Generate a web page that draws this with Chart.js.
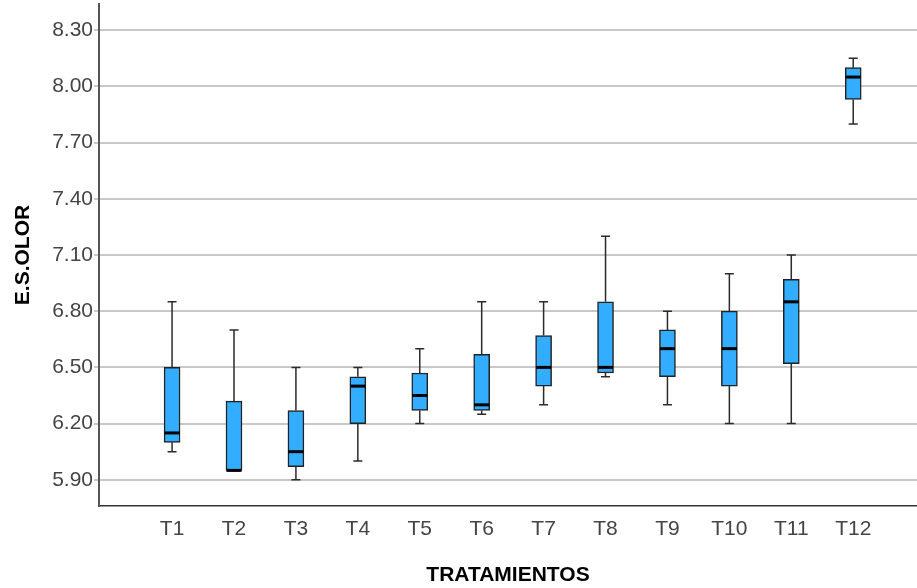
<!DOCTYPE html>
<html>
<head>
<meta charset="utf-8">
<script src="https://cdn.jsdelivr.net/npm/chart.js@4"></script>
<style>
  html, body { margin: 0; padding: 0; background: #ffffff; }
  #wrap { width: 917px; height: 588px; }
</style>
</head>
<body>
<div id="wrap"><canvas id="c" width="917" height="588"></canvas></div>
<script>
// ---- data ----
const categories = ['T1','T2','T3','T4','T5','T6','T7','T8','T9','T10','T11','T12'];
const minVals    = [6.05, 5.95, 5.90, 6.00, 6.20, 6.25, 6.30, 6.45, 6.30, 6.20, 6.20, 7.80];
const q1Vals     = [6.10, 5.95, 5.97, 6.20, 6.27, 6.27, 6.40, 6.47, 6.45, 6.40, 6.52, 7.93];
const medianVals = [6.15, 5.95, 6.05, 6.40, 6.35, 6.30, 6.50, 6.50, 6.60, 6.60, 6.85, 8.05];
const q3Vals     = [6.50, 6.32, 6.27, 6.45, 6.47, 6.57, 6.67, 6.85, 6.70, 6.80, 6.97, 8.10];
const maxVals    = [6.85, 6.70, 6.50, 6.50, 6.60, 6.85, 6.85, 7.20, 6.80, 7.00, 7.10, 8.15];
const yTickValues = [5.90, 6.20, 6.50, 6.80, 7.10, 7.40, 7.70, 8.00, 8.30];
const xTitle = 'TRATAMIENTOS';
const yTitle = 'E.S.OLOR';

const xPositions = categories.map((_, i) => i + 1);
const boxData = categories.map((_, i) => ({ x: xPositions[i], y: [q1Vals[i], q3Vals[i]] }));

const FONT = "'Liberation Sans', Arial, sans-serif";

const whiskerPlugin = {
  id: 'whiskers',
  afterDatasetsDraw(chart) {
    const ctx = chart.ctx;
    const xs = chart.scales.x, ys = chart.scales.y;
    ctx.save();
    categories.forEach((_, i) => {
      const x = xs.getPixelForValue(xPositions[i]);
      const yMin = ys.getPixelForValue(minVals[i]);
      const yQ1 = ys.getPixelForValue(q1Vals[i]);
      const yMed = ys.getPixelForValue(medianVals[i]);
      const yQ3 = ys.getPixelForValue(q3Vals[i]);
      const yMax = ys.getPixelForValue(maxVals[i]);
      ctx.strokeStyle = '#2b2b2b';
      ctx.lineWidth = 1.5;
      ctx.beginPath();
      if (maxVals[i] > q3Vals[i]) {
        ctx.moveTo(x, yQ3); ctx.lineTo(x, yMax);
        ctx.moveTo(x - 4.5, yMax); ctx.lineTo(x + 4.5, yMax);
      }
      if (minVals[i] < q1Vals[i]) {
        ctx.moveTo(x, yQ1); ctx.lineTo(x, yMin);
        ctx.moveTo(x - 4.5, yMin); ctx.lineTo(x + 4.5, yMin);
      }
      ctx.stroke();
      ctx.strokeStyle = '#000000';
      ctx.lineWidth = 3;
      ctx.beginPath();
      ctx.moveTo(x - 7.5, yMed); ctx.lineTo(x + 7.5, yMed);
      ctx.stroke();
    });
    ctx.restore();
  }
};

new Chart(document.getElementById('c'), {
  type: 'bar',
  data: {
    datasets: [{
      label: 'E.S.OLOR',
      data: boxData,
      backgroundColor: '#33adff',
      borderColor: '#222222',
      borderWidth: 1.5,
      borderSkipped: false,
      barThickness: 16,
      grouped: false
    }]
  },
  options: {
    responsive: false,
    animation: false,
    events: [],
    layout: { padding: { top: 4, right: 0, bottom: 0, left: 0 } },
    plugins: { legend: { display: false }, tooltip: { enabled: false } },
    scales: {
      x: {
        type: 'linear',
        offset: false,
        min: -0.18,
        max: 13.03,
        afterBuildTicks(scale) { scale.ticks = xPositions.map(v => ({ value: v })); },
        afterFit(scale) { scale.height = 82; scale.paddingLeft = 0; scale.paddingRight = 0; },
        grid: { display: false, drawTicks: false },
        border: { display: true, color: '#333333', width: 1.5 },
        ticks: {
          autoSkip: false,
          maxRotation: 0,
          padding: 11,
          color: '#444444',
          font: { family: FONT, size: 21 },
          callback: (v) => categories[xPositions.indexOf(v)] ?? ''
        },
        title: {
          display: true,
          text: xTitle,
          color: '#000000',
          font: { family: FONT, size: 21, weight: 'bold' },
          padding: { top: 0, bottom: 0 }
        }
      },
      y: {
        type: 'linear',
        min: 5.76,
        max: 8.44,
        afterBuildTicks(scale) { scale.ticks = yTickValues.map(v => ({ value: v })); },
        afterFit(scale) { scale.width = 99; scale.paddingTop = 0; scale.paddingBottom = 0; },
        grid: { color: '#c8c8c8', lineWidth: 2, drawTicks: true, tickLength: 5 },
        border: { display: true, color: '#555555', width: 2 },
        ticks: {
          padding: 1,
          color: '#444444',
          font: { family: FONT, size: 21 },
          callback: (v) => Number(v).toFixed(2)
        },
        title: {
          display: true,
          text: yTitle,
          color: '#000000',
          font: { family: FONT, size: 21, weight: 'bold' },
          padding: { top: 11, bottom: 0 }
        }
      }
    }
  },
  plugins: [whiskerPlugin]
});
</script>
</body>
</html>
